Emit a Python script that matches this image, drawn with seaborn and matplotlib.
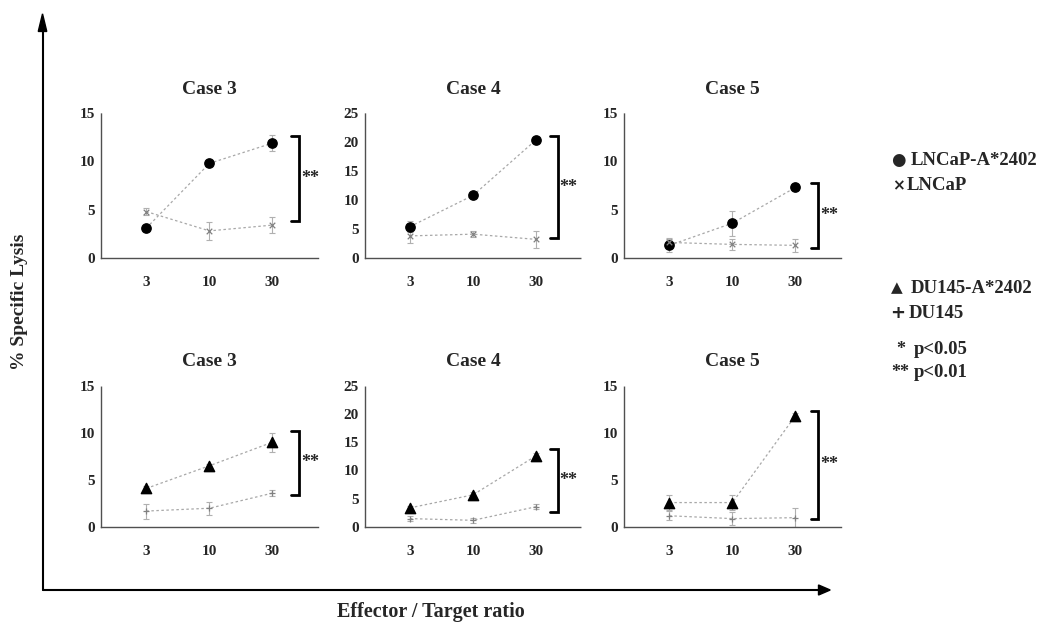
import numpy as np
import pandas as pd
import seaborn as sns
import matplotlib.pyplot as plt

# effector / target ratios and panel titles
ratios = ['3', '10', '30']
cases = ['Case 3', 'Case 4', 'Case 5']

# top row: LNCaP-A*2402 vs LNCaP
lncap_a24 = [[3.1, 9.8, 11.9], [5.4, 10.8, 20.4], [1.3, 3.6, 7.3]]
lncap_a24_err = [[0.3, 0.3, 0.8], [1.0, 0.4, 0.4], [0.7, 1.3, 0.3]]
lncap = [[4.8, 2.8, 3.4], [3.8, 4.1, 3.2], [1.6, 1.4, 1.3]]
lncap_err = [[0.4, 0.9, 0.8], [1.2, 0.5, 1.5], [0.5, 0.6, 0.7]]

# bottom row: DU145-A*2402 vs DU145
du145_a24 = [[4.1, 6.5, 9.0], [3.4, 5.7, 12.6], [2.6, 2.6, 11.8]]
du145_a24_err = [[0.3, 0.2, 1.0], [0.3, 0.5, 0.5], [0.8, 0.8, 0.3]]
du145 = [[1.7, 2.0, 3.6], [1.5, 1.2, 3.6], [1.2, 0.9, 1.0]]
du145_err = [[0.8, 0.7, 0.3], [0.5, 0.4, 0.4], [0.5, 0.7, 1.0]]

y_max = [15, 25, 15]
y_ticks = [[0, 5, 10, 15], [0, 5, 10, 15, 20, 25], [0, 5, 10, 15]]

# significance brackets (low, high), all p<0.01
brackets_top = [(3.8, 12.6), (3.5, 21.0), (1.0, 7.8)]
brackets_bottom = [(3.4, 10.2), (2.6, 13.8), (0.9, 12.3)]

# key entries: (symbol, label)
key_items = [('\u25cf', 'LNCaP-A*2402'), ('\u00d7', 'LNCaP'),
             ('\u25b2', 'DU145-A*2402'), ('+', 'DU145'),
             ('*', 'p<0.05'), ('**', 'p<0.01')]

sns.set_theme(style='white')
plt.rcParams['font.family'] = ['Liberation Serif', 'DejaVu Serif']
plt.rcParams['font.weight'] = 'bold'

fig = plt.figure(figsize=(10.63, 6.29), dpi=100)

lefts = [0.095, 0.343, 0.587]
bottoms = [0.590, 0.162]
width, height = 0.204, 0.230

line_col = '#a8a8a8'
err_col = '#b0b0b0'


def draw_panel(ax, title, ymax, yticks, vals_a, err_a, vals_b, err_b,
               marker_a, marker_b, bracket, bx):
    df = pd.DataFrame({
        'ratio': ratios * 2,
        'lysis': list(vals_a) + list(vals_b),
        'line': ['a'] * 3 + ['b'] * 3,
    })
    sns.pointplot(data=df, x='ratio', y='lysis', hue='line', errorbar=None,
                  palette={'a': line_col, 'b': line_col}, markers=['', ''],
                  linestyles=[(0, (2, 2)), (0, (2, 2))], ax=ax, legend=False)
    for ln in ax.lines:
        ln.set_linewidth(0.9)
    pos = np.arange(len(ratios))
    ax.errorbar(pos, vals_a, yerr=err_a, fmt='none', ecolor=err_col,
                elinewidth=0.8, capsize=2.5, capthick=0.8)
    ax.errorbar(pos, vals_b, yerr=err_b, fmt='none', ecolor=err_col,
                elinewidth=0.8, capsize=2.5, capthick=0.8)
    if marker_a == 'o':
        ax.scatter(pos, vals_a, marker='o', s=45, color='black', zorder=5)
    else:
        ax.scatter(pos, vals_a, marker='^', s=55, color='black', zorder=5)
    ax.scatter(pos, vals_b, marker=marker_b, s=16, color='#808080',
               linewidths=0.9, zorder=5)

    ax.set_xlim(-0.72, 2.72)
    ax.set_ylim(0, ymax)
    ax.set_yticks(yticks)
    ax.set_xlabel('')
    ax.set_ylabel('')
    ax.set_title(title, fontsize=14, fontweight='bold', pad=14)
    ax.tick_params(axis='y', length=0, pad=4, labelsize=11)
    ax.tick_params(axis='x', length=0, pad=13, labelsize=11)
    for lab in ax.get_xticklabels() + ax.get_yticklabels():
        lab.set_fontweight('bold')
    for side in ['top', 'right']:
        ax.spines[side].set_visible(False)
    for side in ['left', 'bottom']:
        ax.spines[side].set_color('#505050')
        ax.spines[side].set_linestyle((0, (2, 1)))
        ax.spines[side].set_linewidth(1.0)
    ax.patch.set_alpha(0)

    lo, hi = bracket
    tw = 0.12
    ax.plot([bx - tw, bx, bx, bx - tw], [hi, hi, lo, lo], color='black',
            lw=2.0, clip_on=False, solid_joinstyle='miter')
    ax.text(bx + 0.03, (lo + hi) / 2, '**', fontsize=13, fontweight='bold',
            va='center', ha='left')


bx_list = [2.42, 2.34, 2.36]
for i in range(3):
    ax = fig.add_axes([lefts[i], bottoms[0], width, height])
    draw_panel(ax, cases[i], y_max[i], y_ticks[i], lncap_a24[i], lncap_a24_err[i],
               lncap[i], lncap_err[i], 'o', 'x', brackets_top[i], bx_list[i])
    ax = fig.add_axes([lefts[i], bottoms[1], width, height - 0.005])
    draw_panel(ax, cases[i], y_max[i], y_ticks[i], du145_a24[i], du145_a24_err[i],
               du145[i], du145_err[i], '^', '+', brackets_bottom[i], bx_list[i])

# big L-shaped axes with arrows
fig.add_artist(plt.Line2D([0.040, 0.040], [0.062, 0.955], color='black', lw=1.5))
fig.add_artist(plt.Line2D([0.040, 0.775], [0.062, 0.062], color='black', lw=1.5))
fig.patches.append(plt.Polygon([[0.036, 0.950], [0.044, 0.950], [0.040, 0.978]],
                               closed=True, color='black', transform=fig.transFigure))
fig.patches.append(plt.Polygon([[0.770, 0.054], [0.770, 0.070], [0.781, 0.062]],
                               closed=True, color='black', transform=fig.transFigure))

fig.text(0.018, 0.52, '% Specific Lysis', rotation=90, fontsize=14,
         fontweight='bold', ha='center', va='center')
fig.text(0.405, 0.027, 'Effector / Target ratio', fontsize=14.5,
         fontweight='bold', ha='center', va='center')

# key on the right
key_fam = ['DejaVu Sans']
key_y = [0.745, 0.705, 0.542, 0.502, 0.445, 0.408]
sym_size = [12, 11, 11, 13, 13, 13]
sym_x = [0.838, 0.839, 0.838, 0.837, 0.843, 0.838]
lab_x = [0.857, 0.853, 0.857, 0.855, 0.860, 0.860]
for (sym, lab), y, fs, sx, lx in zip(key_items, key_y, sym_size, sym_x, lab_x):
    fam = 'Liberation Serif' if '*' in sym else key_fam
    fig.text(sx, y, sym, fontsize=fs, fontweight='bold', family=fam, va='center')
    fig.text(lx, y, lab, fontsize=13.5, fontweight='bold', va='center')

fig.savefig('out.png', dpi=100, facecolor='white')
